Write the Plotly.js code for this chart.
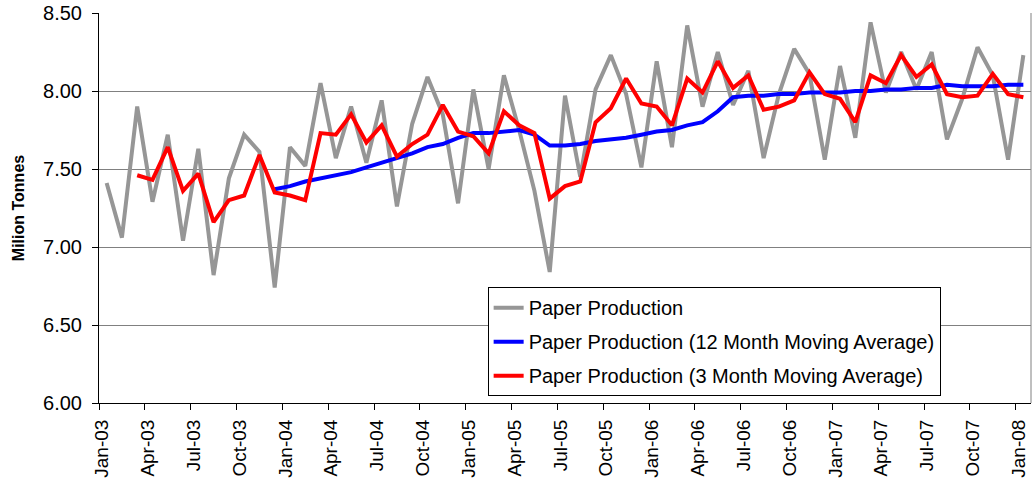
<!DOCTYPE html>
<html>
<head>
<meta charset="utf-8">
<script src="https://cdn.plot.ly/plotly-3.0.1.min.js"></script>
<style>html,body{margin:0;padding:0;background:#fff;}#chart{width:1032px;height:485px;}</style>
</head>
<body>
<div id="chart"></div>
<script>
// Months Jan-03 .. Jan-08 (61 months)
var months = ["Jan-03","Feb-03","Mar-03","Apr-03","May-03","Jun-03","Jul-03","Aug-03","Sep-03","Oct-03","Nov-03","Dec-03",
  "Jan-04","Feb-04","Mar-04","Apr-04","May-04","Jun-04","Jul-04","Aug-04","Sep-04","Oct-04","Nov-04","Dec-04",
  "Jan-05","Feb-05","Mar-05","Apr-05","May-05","Jun-05","Jul-05","Aug-05","Sep-05","Oct-05","Nov-05","Dec-05",
  "Jan-06","Feb-06","Mar-06","Apr-06","May-06","Jun-06","Jul-06","Aug-06","Sep-06","Oct-06","Nov-06","Dec-06",
  "Jan-07","Feb-07","Mar-07","Apr-07","May-07","Jun-07","Jul-07","Aug-07","Sep-07","Oct-07","Nov-07","Dec-07",
  "Jan-08"];

var production = [7.41,7.06,7.90,7.29,7.72,7.04,7.63,6.82,7.44,7.72,7.61,6.74,
  7.64,7.52,8.05,7.57,7.90,7.54,7.94,7.26,7.79,8.09,7.85,7.28,
  8.01,7.50,8.10,7.75,7.36,6.84,7.97,7.45,8.01,8.23,7.98,7.51,
  8.19,7.64,8.42,7.90,8.25,7.91,8.13,7.57,7.98,8.27,8.11,7.56,
  8.16,7.70,8.44,7.99,8.25,8.01,8.25,7.69,7.95,8.28,8.10,7.56,
  8.23];

var ma12 = [null,null,null,null,null,null,null,null,null,null,null,7.37,
  7.39,7.42,7.44,7.46,7.48,7.51,7.54,7.57,7.60,7.64,7.66,7.70,
  7.73,7.73,7.74,7.75,7.72,7.65,7.65,7.66,7.68,7.69,7.70,7.72,
  7.74,7.75,7.78,7.80,7.87,7.96,7.97,7.97,7.98,7.98,7.99,7.99,
  7.99,8.00,8.00,8.01,8.01,8.02,8.02,8.04,8.03,8.03,8.03,8.04,
  8.04];

var ma3 = [null,null,7.46,7.43,7.64,7.36,7.47,7.16,7.30,7.33,7.59,7.35,
  7.33,7.30,7.73,7.72,7.85,7.67,7.78,7.58,7.66,7.72,7.91,7.74,
  7.71,7.60,7.87,7.78,7.73,7.31,7.39,7.42,7.80,7.89,8.08,7.92,
  7.90,7.78,8.08,7.99,8.19,8.02,8.10,7.88,7.90,7.94,8.12,7.98,
  7.95,7.80,8.10,8.05,8.23,8.09,8.17,7.98,7.96,7.97,8.11,7.98,
  7.96];

var names = ["Paper Production","Paper Production (12 Month Moving Average)","Paper Production (3 Month Moving Average)"];
var colors = ["#969696","#0000FF","#FF0000"];
var yTicks = [6.0,6.5,7.0,7.5,8.0,8.5];

var idx = months.map(function(_, i){ return i; });
var labelIdx = [], labelText = [];
for (var i = 0; i < months.length; i += 3) { labelIdx.push(i - 0.3); labelText.push(months[i]); }

var series = [production, ma12, ma3];
var traces = series.map(function(s, k){
  return {x: idx, y: s, type: 'scatter', mode: 'lines', name: names[k],
    line: {color: colors[k], width: 4}, connectgaps: false, legendgroup: 'g'+k};
});

var font = 'Arial, "Liberation Sans", sans-serif';
var layout = {
  width: 1032, height: 485,
  margin: {l: 99, r: 1, t: 13, b: 82},
  paper_bgcolor: '#fff', plot_bgcolor: '#fff',
  font: {family: font, size: 18, color: '#000'},
  showlegend: true,
  legend: {x: 0.417, y: 0.297, xanchor: 'left', yanchor: 'top',
    bgcolor: '#fff', bordercolor: '#000', borderwidth: 1,
    font: {family: font, size: 20, color: '#000'},
    traceorder: 'grouped', tracegroupgap: 5},
  xaxis: {range: [-0.5, months.length - 0.5], tickmode: 'array', tickvals: labelIdx, ticktext: labelText,
    tickangle: -90, ticks: '', showgrid: false, zeroline: false, showline: true, linecolor: '#000', linewidth: 1,
    ticklabelstandoff: 8, ticklabeloverflow: 'allow',
    minor: {tickmode: 'linear', tick0: -0.5, dtick: 3, ticks: 'outside', ticklen: 6, tickcolor: '#000', tickwidth: 1, showgrid: false},
    tickfont: {family: font, size: 19, color: '#000'}},
  yaxis: {range: [6.0, 8.5], tickmode: 'array', tickvals: yTicks, tickformat: '.2f',
    ticks: 'outside', ticklen: 6, tickcolor: '#000', showgrid: true, gridcolor: '#808080', gridwidth: 1,
    zeroline: false, showline: true, linecolor: '#000', linewidth: 1, ticklabelstandoff: 6,
    tickfont: {family: font, size: 20, color: '#000'},
    title: {text: 'Milion Tonnes', font: {family: font, size: 16, color: '#000', weight: 'bold'}, standoff: 14}},
  shapes: [{type: 'line', xref: 'paper', yref: 'paper', x0: 1, x1: 1, y0: 0, y1: 1, line: {color: '#808080', width: 1}}]
};

Plotly.newPlot('chart', traces, layout, {displayModeBar: false, staticPlot: true});
</script>
</body>
</html>
